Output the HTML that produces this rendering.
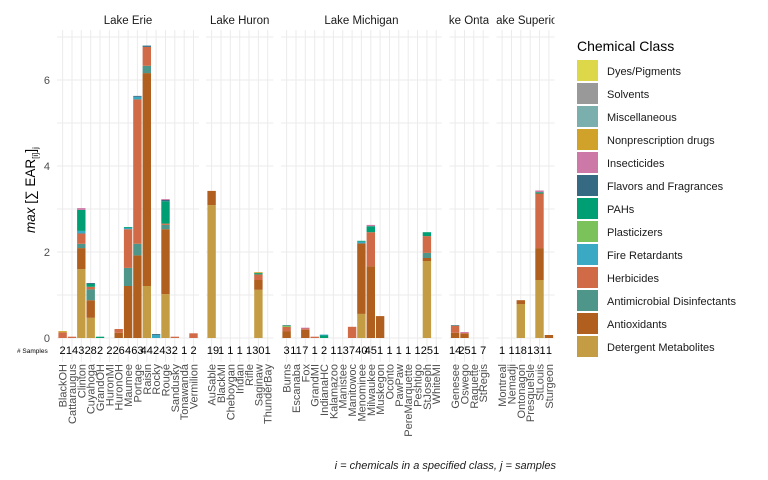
<!DOCTYPE html>
<html><head><meta charset="utf-8"><style>
body{margin:0;background:#fff}
svg{display:block;font-family:"Liberation Sans",sans-serif}
.de{fill:#C49C43}.ao{fill:#B05F1F}.am{fill:#4E9689}.hb{fill:#D16B47}.fr{fill:#39A9C4}.pl{fill:#7BC25B}.pa{fill:#009E73}.fl{fill:#356A82}.in{fill:#CC79A7}.np{fill:#D0A22A}
.g line{stroke:#ebebeb;stroke-width:1}
.xl text{font-size:11px;fill:#4d4d4d;text-anchor:end}
.sc text{font-size:11px;fill:#000;text-anchor:middle}
.lg text{font-size:11px;fill:#1a1a1a}
</style></head><body>
<svg width="768" height="480" viewBox="0 0 768 480">
<defs>
<clipPath id="c4"><rect x="449.5" y="0" width="39.3" height="40"/></clipPath>
<clipPath id="c5"><rect x="496.5" y="0" width="58" height="40"/></clipPath>
</defs>
<!-- grid -->
<g class="g">
<!-- horizontal per panel -->
<g>
<line x1="57" x2="199" y1="338" y2="338"/><line x1="57" x2="199" y1="295" y2="295" stroke-width=".5"/><line x1="57" x2="199" y1="252" y2="252"/><line x1="57" x2="199" y1="209" y2="209" stroke-width=".5"/><line x1="57" x2="199" y1="166" y2="166"/><line x1="57" x2="199" y1="123" y2="123" stroke-width=".5"/><line x1="57" x2="199" y1="80" y2="80"/><line x1="57" x2="199" y1="37" y2="37" stroke-width=".5"/>
<line x1="206" x2="273.3" y1="338" y2="338"/><line x1="206" x2="273.3" y1="295" y2="295"/><line x1="206" x2="273.3" y1="252" y2="252"/><line x1="206" x2="273.3" y1="209" y2="209"/><line x1="206" x2="273.3" y1="166" y2="166"/><line x1="206" x2="273.3" y1="123" y2="123"/><line x1="206" x2="273.3" y1="80" y2="80"/><line x1="206" x2="273.3" y1="37" y2="37"/>
<line x1="281" x2="441.8" y1="338" y2="338"/><line x1="281" x2="441.8" y1="295" y2="295"/><line x1="281" x2="441.8" y1="252" y2="252"/><line x1="281" x2="441.8" y1="209" y2="209"/><line x1="281" x2="441.8" y1="166" y2="166"/><line x1="281" x2="441.8" y1="123" y2="123"/><line x1="281" x2="441.8" y1="80" y2="80"/><line x1="281" x2="441.8" y1="37" y2="37"/>
<line x1="449.5" x2="488.8" y1="338" y2="338"/><line x1="449.5" x2="488.8" y1="295" y2="295"/><line x1="449.5" x2="488.8" y1="252" y2="252"/><line x1="449.5" x2="488.8" y1="209" y2="209"/><line x1="449.5" x2="488.8" y1="166" y2="166"/><line x1="449.5" x2="488.8" y1="123" y2="123"/><line x1="449.5" x2="488.8" y1="80" y2="80"/><line x1="449.5" x2="488.8" y1="37" y2="37"/>
<line x1="496.5" x2="554.5" y1="338" y2="338"/><line x1="496.5" x2="554.5" y1="295" y2="295"/><line x1="496.5" x2="554.5" y1="252" y2="252"/><line x1="496.5" x2="554.5" y1="209" y2="209"/><line x1="496.5" x2="554.5" y1="166" y2="166"/><line x1="496.5" x2="554.5" y1="123" y2="123"/><line x1="496.5" x2="554.5" y1="80" y2="80"/><line x1="496.5" x2="554.5" y1="37" y2="37"/>
</g>
<g>
<line x1="62.6" x2="62.6" y1="30" y2="362"/><line x1="72" x2="72" y1="30" y2="362"/><line x1="81.3" x2="81.3" y1="30" y2="362"/><line x1="90.7" x2="90.7" y1="30" y2="362"/><line x1="100" x2="100" y1="30" y2="362"/><line x1="109.4" x2="109.4" y1="30" y2="362"/><line x1="118.7" x2="118.7" y1="30" y2="362"/><line x1="128.1" x2="128.1" y1="30" y2="362"/><line x1="137.4" x2="137.4" y1="30" y2="362"/><line x1="146.8" x2="146.8" y1="30" y2="362"/><line x1="156.1" x2="156.1" y1="30" y2="362"/><line x1="165.5" x2="165.5" y1="30" y2="362"/><line x1="174.8" x2="174.8" y1="30" y2="362"/><line x1="184.2" x2="184.2" y1="30" y2="362"/><line x1="193.5" x2="193.5" y1="30" y2="362"/>
<line x1="211.6" x2="211.6" y1="30" y2="362"/><line x1="221" x2="221" y1="30" y2="362"/><line x1="230.3" x2="230.3" y1="30" y2="362"/><line x1="239.7" x2="239.7" y1="30" y2="362"/><line x1="249" x2="249" y1="30" y2="362"/><line x1="258.4" x2="258.4" y1="30" y2="362"/><line x1="267.7" x2="267.7" y1="30" y2="362"/>
<line x1="286.6" x2="286.6" y1="30" y2="362"/><line x1="296" x2="296" y1="30" y2="362"/><line x1="305.3" x2="305.3" y1="30" y2="362"/><line x1="314.7" x2="314.7" y1="30" y2="362"/><line x1="324" x2="324" y1="30" y2="362"/><line x1="333.4" x2="333.4" y1="30" y2="362"/><line x1="342.7" x2="342.7" y1="30" y2="362"/><line x1="352.1" x2="352.1" y1="30" y2="362"/><line x1="361.4" x2="361.4" y1="30" y2="362"/><line x1="370.8" x2="370.8" y1="30" y2="362"/><line x1="380.1" x2="380.1" y1="30" y2="362"/><line x1="389.5" x2="389.5" y1="30" y2="362"/><line x1="398.8" x2="398.8" y1="30" y2="362"/><line x1="408.2" x2="408.2" y1="30" y2="362"/><line x1="417.5" x2="417.5" y1="30" y2="362"/><line x1="426.9" x2="426.9" y1="30" y2="362"/><line x1="436.2" x2="436.2" y1="30" y2="362"/>
<line x1="455.1" x2="455.1" y1="30" y2="362"/><line x1="464.5" x2="464.5" y1="30" y2="362"/><line x1="473.8" x2="473.8" y1="30" y2="362"/><line x1="483.2" x2="483.2" y1="30" y2="362"/>
<line x1="502.1" x2="502.1" y1="30" y2="362"/><line x1="511.5" x2="511.5" y1="30" y2="362"/><line x1="520.8" x2="520.8" y1="30" y2="362"/><line x1="530.2" x2="530.2" y1="30" y2="362"/><line x1="539.5" x2="539.5" y1="30" y2="362"/><line x1="548.9" x2="548.9" y1="30" y2="362"/>
</g>
</g>

<!-- bars -->
<g>
<rect class="hb" x="58.4" y="332.4" width="8.4" height="5.6"/><rect class="np" x="58.4" y="331.1" width="8.4" height="1.3"/>
<rect class="hb" x="67.8" y="336.7" width="8.4" height="1.3"/>
<rect class="de" x="77.1" y="269.2" width="8.4" height="68.8"/><rect class="ao" x="77.1" y="248.1" width="8.4" height="21.1"/><rect class="am" x="77.1" y="243.8" width="8.4" height="4.3"/><rect class="hb" x="77.1" y="233.5" width="8.4" height="10.3"/><rect class="fr" x="77.1" y="230.9" width="8.4" height="2.6"/><rect class="pa" x="77.1" y="209.9" width="8.4" height="21"/><rect class="in" x="77.1" y="208.1" width="8.4" height="1.8"/>
<rect class="de" x="86.5" y="317.8" width="8.4" height="20.2"/><rect class="ao" x="86.5" y="300.2" width="8.4" height="17.6"/><rect class="am" x="86.5" y="289.4" width="8.4" height="10.8"/><rect class="hb" x="86.5" y="286.8" width="8.4" height="2.6"/><rect class="pa" x="86.5" y="283.8" width="8.4" height="3"/><rect class="fl" x="86.5" y="283" width="8.4" height="0.9"/>
<rect class="pa" x="95.8" y="336.7" width="8.4" height="1.3"/>
<rect class="ao" x="114.5" y="332.8" width="8.4" height="5.2"/><rect class="hb" x="114.5" y="329" width="8.4" height="3.8"/>
<rect class="ao" x="123.9" y="286" width="8.4" height="52"/><rect class="am" x="123.9" y="267.9" width="8.4" height="18.1"/><rect class="hb" x="123.9" y="229.2" width="8.4" height="38.7"/><rect class="fr" x="123.9" y="227.9" width="8.4" height="1.3"/><rect class="pa" x="123.9" y="227.1" width="8.4" height="0.9"/>
<rect class="ao" x="133.2" y="255.4" width="8.4" height="82.6"/><rect class="am" x="133.2" y="243.8" width="8.4" height="11.6"/><rect class="hb" x="133.2" y="99.4" width="8.4" height="144.4"/><rect class="fr" x="133.2" y="96.8" width="8.4" height="2.6"/><rect class="fl" x="133.2" y="95.9" width="8.4" height="0.9"/>
<rect class="de" x="142.6" y="286" width="8.4" height="52"/><rect class="ao" x="142.6" y="73.1" width="8.4" height="212.9"/><rect class="am" x="142.6" y="65.8" width="8.4" height="7.3"/><rect class="hb" x="142.6" y="46.9" width="8.4" height="18.9"/><rect class="fl" x="142.6" y="45.6" width="8.4" height="1.3"/>
<rect class="fr" x="151.9" y="335" width="8.4" height="3"/><rect class="fl" x="151.9" y="334.1" width="8.4" height="0.9"/>
<rect class="de" x="161.3" y="294.1" width="8.4" height="43.9"/><rect class="ao" x="161.3" y="229.2" width="8.4" height="64.9"/><rect class="am" x="161.3" y="224.9" width="8.4" height="4.3"/><rect class="hb" x="161.3" y="223.6" width="8.4" height="1.3"/><rect class="pa" x="161.3" y="201.3" width="8.4" height="22.3"/><rect class="fl" x="161.3" y="200" width="8.4" height="1.3"/><rect class="in" x="161.3" y="199.1" width="8.4" height="0.9"/>
<rect class="hb" x="170.6" y="336.7" width="8.4" height="1.3"/>
<rect class="hb" x="189.3" y="333.3" width="8.4" height="4.7"/>

<rect class="de" x="207.4" y="205.1" width="8.4" height="132.9"/><rect class="ao" x="207.4" y="190.9" width="8.4" height="14.2"/>
<rect class="de" x="254.2" y="289.8" width="8.4" height="48.2"/><rect class="ao" x="254.2" y="280" width="8.4" height="9.8"/><rect class="hb" x="254.2" y="274.4" width="8.4" height="5.6"/><rect class="pa" x="254.2" y="273.1" width="8.4" height="1.3"/><rect class="np" x="254.2" y="272.2" width="8.4" height="0.9"/>

<rect class="ao" x="282.4" y="331.1" width="8.4" height="6.9"/><rect class="hb" x="282.4" y="326.8" width="8.4" height="4.3"/><rect class="pl" x="282.4" y="326" width="8.4" height="0.9"/><rect class="am" x="282.4" y="325.1" width="8.4" height="0.9"/>
<rect class="ao" x="301.1" y="329.8" width="8.4" height="8.2"/><rect class="hb" x="301.1" y="328.5" width="8.4" height="1.3"/><rect class="in" x="301.1" y="327.7" width="8.4" height="0.9"/>
<rect class="hb" x="310.5" y="336.7" width="8.4" height="1.3"/>
<rect class="pa" x="319.8" y="335.4" width="8.4" height="2.6"/><rect class="fr" x="319.8" y="334.6" width="8.4" height="0.9"/>
<rect class="hb" x="347.9" y="326.8" width="8.4" height="11.2"/>
<rect class="de" x="357.2" y="313.9" width="8.4" height="24.1"/><rect class="ao" x="357.2" y="243.4" width="8.4" height="70.5"/><rect class="fr" x="357.2" y="241.7" width="8.4" height="1.7"/><rect class="pa" x="357.2" y="240.8" width="8.4" height="0.9"/>
<rect class="ao" x="366.6" y="266.2" width="8.4" height="71.8"/><rect class="hb" x="366.6" y="232.2" width="8.4" height="34"/><rect class="pa" x="366.6" y="226.2" width="8.4" height="6"/><rect class="in" x="366.6" y="224.9" width="8.4" height="1.3"/>
<rect class="ao" x="375.9" y="316.1" width="8.4" height="21.9"/>
<rect class="de" x="422.7" y="261" width="8.4" height="77"/><rect class="ao" x="422.7" y="258" width="8.4" height="3"/><rect class="am" x="422.7" y="252.9" width="8.4" height="5.1"/><rect class="hb" x="422.7" y="236.1" width="8.4" height="16.8"/><rect class="pa" x="422.7" y="232.2" width="8.4" height="3.9"/>

<rect class="ao" x="450.9" y="332.8" width="8.4" height="5.2"/><rect class="hb" x="450.9" y="325.5" width="8.4" height="7.3"/><rect class="fr" x="450.9" y="325" width="8.4" height="0.6"/>
<rect class="ao" x="460.3" y="333.7" width="8.4" height="4.3"/><rect class="hb" x="460.3" y="332.8" width="8.4" height="0.9"/><rect class="in" x="460.3" y="332" width="8.4" height="0.9"/>

<rect class="de" x="516.6" y="304" width="8.4" height="34"/><rect class="ao" x="516.6" y="300.2" width="8.4" height="3.8"/>
<rect class="de" x="535.3" y="280" width="8.4" height="58"/><rect class="ao" x="535.3" y="248.1" width="8.4" height="31.9"/><rect class="hb" x="535.3" y="193.5" width="8.4" height="54.6"/><rect class="pa" x="535.3" y="192.2" width="8.4" height="1.3"/><rect class="in" x="535.3" y="190.5" width="8.4" height="1.7"/>
<rect class="ao" x="544.7" y="335" width="8.4" height="3"/>
</g>

<!-- strip labels -->
<g font-size="11.5" fill="#1a1a1a" text-anchor="middle">
<text x="128" y="24">Lake Erie</text>
<text x="239.7" y="24">Lake Huron</text>
<text x="361.4" y="24">Lake Michigan</text>
<text x="469" y="24" clip-path="url(#c4)">Lake Ontario</text>
<text x="525.5" y="24" clip-path="url(#c5)">Lake Superior</text>
</g>

<!-- y axis -->
<g font-size="11" fill="#4d4d4d" text-anchor="end">
<text x="50" y="342">0</text><text x="50" y="256">2</text><text x="50" y="170">4</text><text x="50" y="84">6</text>
</g>
<text transform="translate(35,190) rotate(-90)" text-anchor="middle" font-size="13.5" fill="#000"><tspan font-style="italic">max</tspan> [∑ EAR<tspan font-size="8" dy="3">[i]</tspan><tspan dy="-3">]</tspan><tspan font-size="8" dy="3">j</tspan></text>

<!-- samples -->
<text x="17" y="353" font-size="6.5" fill="#000">#&#160;Samples</text>
<g class="sc">
<text x="62.6" y="354">2</text><text x="72" y="354">14</text><text x="81.3" y="354">3</text><text x="90.7" y="354">28</text><text x="100" y="354">2</text><text x="109.4" y="354">2</text><text x="118.7" y="354">26</text><text x="128.1" y="354">4</text><text x="137.4" y="354">63</text><text x="146.8" y="354">44</text><text x="156.1" y="354">2</text><text x="165.5" y="354">43</text><text x="174.8" y="354">2</text><text x="184.2" y="354">1</text><text x="193.5" y="354">2</text>
<text x="213" y="354">19</text><text x="221" y="354">1</text><text x="230.3" y="354">1</text><text x="239.7" y="354">1</text><text x="249" y="354">1</text><text x="258.4" y="354">30</text><text x="267.7" y="354">1</text>
<text x="286.6" y="354">3</text><text x="296" y="354">11</text><text x="305.3" y="354">7</text><text x="314.7" y="354">1</text><text x="324" y="354">2</text><text x="333.4" y="354">1</text><text x="342.7" y="354">13</text><text x="352.1" y="354">7</text><text x="361.4" y="354">40</text><text x="370.8" y="354">45</text><text x="380.1" y="354">1</text><text x="389.5" y="354">1</text><text x="398.8" y="354">1</text><text x="408.2" y="354">1</text><text x="417.5" y="354">1</text><text x="426.9" y="354">25</text><text x="436.2" y="354">1</text>
<text x="455.1" y="354">14</text><text x="464.5" y="354">25</text><text x="473.8" y="354">1</text><text x="483.2" y="354">7</text>
<text x="502.1" y="354">1</text><text x="511.5" y="354">1</text><text x="520.8" y="354">18</text><text x="530.2" y="354">1</text><text x="539.5" y="354">31</text><text x="548.9" y="354">1</text>
</g>

<!-- x labels -->
<g class="xl">
<text transform="translate(66.6,364) rotate(-90)">BlackOH</text>
<text transform="translate(76,364) rotate(-90)">Cattaraugus</text>
<text transform="translate(85.3,364) rotate(-90)">Clinton</text>
<text transform="translate(94.7,364) rotate(-90)">Cuyahoga</text>
<text transform="translate(104,364) rotate(-90)">GrandOH</text>
<text transform="translate(113.4,364) rotate(-90)">HuronMI</text>
<text transform="translate(122.7,364) rotate(-90)">HuronOH</text>
<text transform="translate(132.1,364) rotate(-90)">Maumee</text>
<text transform="translate(141.4,364) rotate(-90)">Portage</text>
<text transform="translate(150.8,364) rotate(-90)">Raisin</text>
<text transform="translate(160.1,364) rotate(-90)">Rocky</text>
<text transform="translate(169.5,364) rotate(-90)">Rouge</text>
<text transform="translate(178.8,364) rotate(-90)">Sandusky</text>
<text transform="translate(188.2,364) rotate(-90)">Tonawanda</text>
<text transform="translate(197.5,364) rotate(-90)">Vermilion</text>
<text transform="translate(215.6,364) rotate(-90)">AuSable</text>
<text transform="translate(225,364) rotate(-90)">BlackMI</text>
<text transform="translate(234.3,364) rotate(-90)">Cheboygan</text>
<text transform="translate(243.7,364) rotate(-90)">Indian</text>
<text transform="translate(253,364) rotate(-90)">Rifle</text>
<text transform="translate(262.4,364) rotate(-90)">Saginaw</text>
<text transform="translate(271.7,364) rotate(-90)">ThunderBay</text>
<text transform="translate(290.6,364) rotate(-90)">Burns</text>
<text transform="translate(300,364) rotate(-90)">Escanaba</text>
<text transform="translate(309.3,364) rotate(-90)">Fox</text>
<text transform="translate(318.7,364) rotate(-90)">GrandMI</text>
<text transform="translate(328,364) rotate(-90)">IndianaHC</text>
<text transform="translate(337.4,364) rotate(-90)">Kalamazoo</text>
<text transform="translate(346.7,364) rotate(-90)">Manistee</text>
<text transform="translate(356.1,364) rotate(-90)">Manitowoc</text>
<text transform="translate(365.4,364) rotate(-90)">Menominee</text>
<text transform="translate(374.8,364) rotate(-90)">Milwaukee</text>
<text transform="translate(384.1,364) rotate(-90)">Muskegon</text>
<text transform="translate(393.5,364) rotate(-90)">Oconto</text>
<text transform="translate(402.8,364) rotate(-90)">PawPaw</text>
<text transform="translate(412.2,364) rotate(-90)">PereMarquette</text>
<text transform="translate(421.5,364) rotate(-90)">Peshtigo</text>
<text transform="translate(430.9,364) rotate(-90)">StJoseph</text>
<text transform="translate(440.2,364) rotate(-90)">WhiteMI</text>
<text transform="translate(459.1,364) rotate(-90)">Genesee</text>
<text transform="translate(468.5,364) rotate(-90)">Oswego</text>
<text transform="translate(477.8,364) rotate(-90)">Raquette</text>
<text transform="translate(487.2,364) rotate(-90)">StRegis</text>
<text transform="translate(506.1,364) rotate(-90)">Montreal</text>
<text transform="translate(515.5,364) rotate(-90)">Nemadji</text>
<text transform="translate(524.8,364) rotate(-90)">Ontonagon</text>
<text transform="translate(534.2,364) rotate(-90)">PresqueIsle</text>
<text transform="translate(543.5,364) rotate(-90)">StLouis</text>
<text transform="translate(552.9,364) rotate(-90)">Sturgeon</text>
</g>

<text x="556" y="469" font-size="11" font-style="italic" fill="#1a1a1a" text-anchor="end">i = chemicals in a specified class, j = samples</text>

<!-- legend -->
<text x="577" y="51" font-size="14" fill="#000">Chemical Class</text>
<g class="lg">
<rect x="577" y="60" width="21" height="21" fill="#DCD84A"/><text x="607" y="75">Dyes/Pigments</text>
<rect x="577" y="83" width="21" height="21" fill="#999999"/><text x="607" y="98">Solvents</text>
<rect x="577" y="106" width="21" height="21" fill="#7AAFAE"/><text x="607" y="121">Miscellaneous</text>
<rect x="577" y="129" width="21" height="21" fill="#D0A22A"/><text x="607" y="144">Nonprescription drugs</text>
<rect x="577" y="152" width="21" height="21" fill="#CC79A7"/><text x="607" y="167">Insecticides</text>
<rect x="577" y="175" width="21" height="21" fill="#356A82"/><text x="607" y="190">Flavors and Fragrances</text>
<rect x="577" y="198" width="21" height="21" fill="#009E73"/><text x="607" y="213">PAHs</text>
<rect x="577" y="221" width="21" height="21" fill="#7BC25B"/><text x="607" y="236">Plasticizers</text>
<rect x="577" y="244" width="21" height="21" fill="#39A9C4"/><text x="607" y="259">Fire Retardants</text>
<rect x="577" y="267" width="21" height="21" fill="#D16B47"/><text x="607" y="282">Herbicides</text>
<rect x="577" y="290" width="21" height="21" fill="#4E9689"/><text x="607" y="305">Antimicrobial Disinfectants</text>
<rect x="577" y="313" width="21" height="21" fill="#B05F1F"/><text x="607" y="328">Antioxidants</text>
<rect x="577" y="336" width="21" height="21" fill="#C49C43"/><text x="607" y="351">Detergent Metabolites</text>
</g>
</svg>
</body></html>
